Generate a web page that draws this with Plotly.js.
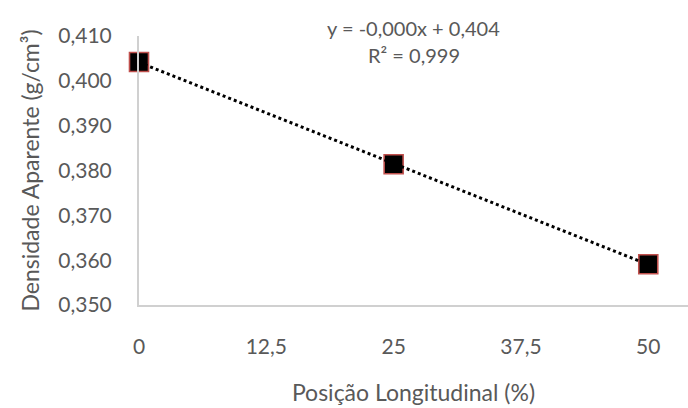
<!DOCTYPE html>
<html>
<head>
<meta charset="utf-8">
<script src="https://cdn.plot.ly/plotly-3.0.1.min.js"></script>
<style>
  html, body { margin: 0; padding: 0; background: #fff; }
  #chart { width: 688px; height: 408px; }
</style>
</head>
<body>
<div id="chart"></div>
<script>
// Longitudinal position along the piece (%) and apparent density (g/cm³)
const positions = [0, 25, 50];
const density = [0.4042, 0.3814, 0.3591];

const xTicks = [0, 12.5, 25, 37.5, 50];
const xTickText = ['0', '12,5', '25', '37,5', '50'];
const yTicks = [0.35, 0.36, 0.37, 0.38, 0.39, 0.40, 0.41];
const yTickText = ['0,350', '0,360', '0,370', '0,380', '0,390', '0,400', '0,410'];

const equationText = 'y = -0,000x + 0,404';
const r2Text = 'R² = 0,999';

// Least-squares linear trend through the measured points
function linearFit(xs, ys) {
  const n = xs.length;
  const mx = xs.reduce((a, b) => a + b, 0) / n;
  const my = ys.reduce((a, b) => a + b, 0) / n;
  let sxy = 0, sxx = 0;
  for (let i = 0; i < n; i++) {
    sxy += (xs[i] - mx) * (ys[i] - my);
    sxx += (xs[i] - mx) * (xs[i] - mx);
  }
  const slope = sxy / sxx;
  return { slope, intercept: my - slope * mx };
}
const fit = linearFit(positions, density);
const trendX = [positions[0], positions[positions.length - 1]];
const trendY = trendX.map(x => fit.intercept + fit.slope * x);

const gray = '#595959';
const font = 'Lato, "Open Sans", sans-serif';

const traces = [
  {
    x: positions, y: density,
    type: 'scatter', mode: 'markers', cliponaxis: false,
    marker: { symbol: 'square', size: 19, color: '#000000',
              line: { color: '#C0504D', width: 1.6 } },
    hoverinfo: 'x+y', showlegend: false
  },
  {
    x: trendX, y: trendY,
    type: 'scatter', mode: 'lines', cliponaxis: false,
    line: { color: '#000000', width: 3, dash: 'dot' },
    hoverinfo: 'skip', showlegend: false
  }
];

const layout = {
  width: 688, height: 408,
  margin: { l: 139, r: 0, t: 36, b: 103 },
  paper_bgcolor: '#ffffff', plot_bgcolor: '#ffffff',
  font: { family: font, color: gray, size: 21 },
  xaxis: {
    range: [0, 53.9],
    tickvals: xTicks, ticktext: xTickText,
    showgrid: false, zeroline: false,
    showline: true, linecolor: '#D0D0D0', linewidth: 2,
    ticks: '', ticklabelstandoff: 22,
    tickfont: { family: font, size: 21, color: gray },
    title: { text: 'Posição Longitudinal (%)', standoff: 28,
             font: { family: font, size: 23, color: gray } }
  },
  yaxis: {
    range: [0.35, 0.41],
    tickvals: yTicks, ticktext: yTickText,
    showgrid: false, zeroline: false,
    showline: true, linecolor: '#D0D0D0', linewidth: 2,
    ticks: '', ticklabelstandoff: 21,
    tickfont: { family: font, size: 21, color: gray },
    title: { text: 'Densidade Aparente (g/cm³)', standoff: 12,
             font: { family: font, size: 23, color: gray } }
  },
  annotations: [
    { xref: 'paper', yref: 'paper', x: 0.50, y: 1.03, xanchor: 'center', yanchor: 'middle',
      text: equationText, showarrow: false, font: { family: font, size: 20, color: gray } },
    { xref: 'paper', yref: 'paper', x: 0.50, y: 0.93, xanchor: 'center', yanchor: 'middle',
      text: r2Text, showarrow: false, font: { family: font, size: 20, color: gray } }
  ]
};

Plotly.newPlot('chart', traces, layout, { displayModeBar: false, staticPlot: true });
</script>
</body>
</html>
